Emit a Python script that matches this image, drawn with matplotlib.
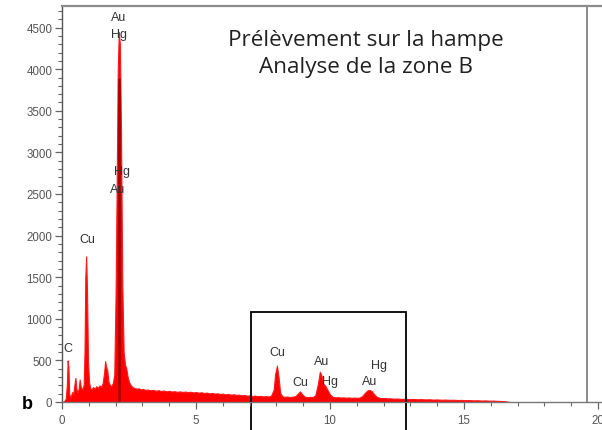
import matplotlib
matplotlib.use("Agg")
import matplotlib.pyplot as plt
from matplotlib.patches import Rectangle
from matplotlib.ticker import MultipleLocator

# ---- data ----
energy_keV = [
    0.00, 0.08, 0.14, 0.18, 0.21, 0.24, 0.27, 0.32, 0.38, 0.42, 0.46, 0.50, 0.54, 0.58,
    0.62, 0.66, 0.70, 0.76, 0.81, 0.84, 0.87, 0.90, 0.93, 0.97, 1.01, 1.05, 1.10, 1.16, 1.22,
    1.28, 1.34, 1.40, 1.46, 1.52, 1.57, 1.61, 1.65, 1.69, 1.73, 1.78, 1.84, 1.90, 1.95,
    2.00, 2.04, 2.08, 2.12, 2.16, 2.20, 2.25, 2.30, 2.35, 2.40, 2.45, 2.50, 2.55,
    2.62, 2.70, 2.78, 2.86, 2.94, 3.02, 3.10, 3.2, 3.3, 3.4, 3.5, 3.6, 3.7, 3.8, 3.9,
    4.0, 4.1, 4.2, 4.3, 4.4, 4.5, 4.6, 4.7, 4.8, 4.9, 5.0, 5.1, 5.2, 5.3, 5.4, 5.5, 5.6,
    5.7, 5.8, 5.9, 6.0, 6.1, 6.2, 6.3, 6.4, 6.5, 6.6, 6.7, 6.8, 6.9, 7.0, 7.1, 7.2, 7.3,
    7.4, 7.5, 7.6, 7.7, 7.8, 7.9, 7.95, 8.02, 8.08, 8.14, 8.22, 8.3, 8.4, 8.5, 8.6, 8.7,
    8.8, 8.88, 8.96, 9.05, 9.15, 9.25, 9.35, 9.45, 9.55, 9.62, 9.68, 9.75, 9.82, 9.9,
    10.0, 10.1, 10.2, 10.3, 10.4, 10.5, 10.6, 10.7, 10.8, 10.9, 11.0, 11.1, 11.2, 11.3,
    11.4, 11.48, 11.56, 11.65, 11.75, 11.85, 11.95, 12.05, 12.15, 12.25, 12.35, 12.5,
    12.65, 12.8, 12.95, 13.1, 13.25, 13.4, 13.55, 13.7, 13.85, 14.0, 14.15, 14.3, 14.45,
    14.6, 14.75, 14.9, 15.05, 15.2, 15.35, 15.5, 15.65, 15.8, 15.95, 16.1, 16.25, 16.4,
    16.55, 16.7,
]
counts = [
    0, 10, 40, 200, 500, 420, 90, 60, 120, 90, 200, 290, 150, 110,
    160, 270, 180, 150, 210, 600, 1500, 1750, 1400, 500, 240, 170, 150, 180, 160,
    190, 170, 200, 180, 230, 350, 490, 420, 380, 250, 210, 190, 230, 330,
    1300, 2600, 4000, 4450, 4300, 3300, 1400, 600, 450, 400, 300, 240, 210,
    180, 170, 160, 165, 150, 158, 145, 150, 140, 146, 135, 142, 132, 138, 128,
    134, 125, 130, 122, 128, 120, 126, 118, 123, 115, 120, 112, 117, 108, 113, 104, 109,
    100, 105, 96, 101, 92, 97, 88, 93, 85, 89, 80, 85, 76, 80, 72, 77, 70,
    74, 67, 71, 66, 75, 150, 330, 436, 300, 110, 70, 62, 66, 60, 64, 70,
    100, 128, 95, 64, 58, 62, 60, 80, 220, 364, 320, 220, 196, 150,
    90, 62, 56, 58, 53, 56, 52, 55, 50, 53, 50, 54, 70, 110,
    140, 145, 130, 90, 62, 50, 46, 48, 43, 45, 40, 42,
    37, 39, 35, 37, 33, 35, 31, 33, 29, 31, 27, 29, 26,
    27, 24, 25, 22, 23, 20, 21, 18, 19, 16, 17, 14, 12,
    8, 0,
]

# dark overlay trace on the main M-line peak
dark_peak_E = [2.13]
dark_peak_counts = [3900]

peak_labels = ["Au", "Hg", "Hg", "Au", "Cu", "C", "Cu", "Cu", "Au", "Hg", "Au", "Hg"]
peak_label_E = [2.13, 2.13, 2.24, 2.09, 0.93, 0.22, 8.02, 8.88, 9.70, 10.0, 11.46, 11.83]
peak_label_counts = [4627, 4423, 2776, 2560, 1959, 649, 601, 240, 493, 252, 252, 445]

x_ticks = [0, 5, 10, 15, 20]
y_ticks = [0, 500, 1000, 1500, 2000, 2500, 3000, 3500, 4000, 4500]

title_lines = ["Prélèvement sur la hampe", "Analyse de la zone B"]
zone_box_E = [7.04, 12.82]
zone_box_top = 1085

# ---- figure ----
W, H = 602, 431
fig = plt.figure(figsize=(W / 100, H / 100), dpi=100)
fig.patch.set_facecolor("white")
ax = fig.add_axes([62 / W, 1 - 403 / H, 540 / W, 396 / H])
ax.set_xlim(0, 540 / 26.8)
ax.set_ylim(0, 396 / 0.0832)

ax.fill_between(energy_keV, counts, 0, color="#ff0000", lw=0.8, edgecolor="#ff1a1a")
ax.vlines(dark_peak_E, 0, dark_peak_counts, color="#a00000", lw=1.8)

# frame
ax.spines["right"].set_visible(False)
ax.spines["top"].set_color("#8c8c8c")
ax.spines["top"].set_linewidth(1.6)
ax.spines["left"].set_color("#555555")
ax.spines["left"].set_linewidth(1.0)
ax.spines["bottom"].set_color("#777777")
ax.spines["bottom"].set_linewidth(1.0)
ax.axvline(19.6, color="#8c8c8c", lw=1.4)

ax.set_xticks(x_ticks)
ax.set_xticklabels([str(v) for v in x_ticks])
ax.set_yticks(y_ticks)
ax.set_yticklabels([str(v) for v in y_ticks])
ax.xaxis.set_minor_locator(MultipleLocator(1))
ax.yaxis.set_minor_locator(MultipleLocator(100))
ax.tick_params(axis="both", which="major", length=5, width=0.9, color="#666666",
               labelsize=8.3, labelcolor="#555555", pad=2)
ax.tick_params(axis="both", which="minor", length=3, width=0.8, color="#666666")
for lab in ax.get_xticklabels() + ax.get_yticklabels():
    lab.set_family("Liberation Sans")
ax.tick_params(axis="x", which="major", pad=4)

# peak labels
for t, e, c in zip(peak_labels, peak_label_E, peak_label_counts):
    ax.text(e, c, t, ha="center", va="center", fontsize=9, color="#333333",
            family="Liberation Sans")

# title
ax.text(11.34, (403 - 41) / 0.0832, title_lines[0], ha="center", va="center",
        fontsize=16.2, color="#222222", family="Open Sans")
ax.text(11.34, (403 - 68) / 0.0832, title_lines[1], ha="center", va="center",
        fontsize=16.2, color="#222222", family="Open Sans")

# zone box
ax.add_patch(Rectangle((zone_box_E[0], -800), zone_box_E[1] - zone_box_E[0],
                       zone_box_top + 800, fill=False, ec="black", lw=1.3,
                       clip_on=False))

fig.text(22 / W, 1 - 405 / H, "b", fontsize=13, fontweight="bold",
         family="Liberation Sans", va="center", ha="left")

fig.savefig("out.png", dpi=100)
